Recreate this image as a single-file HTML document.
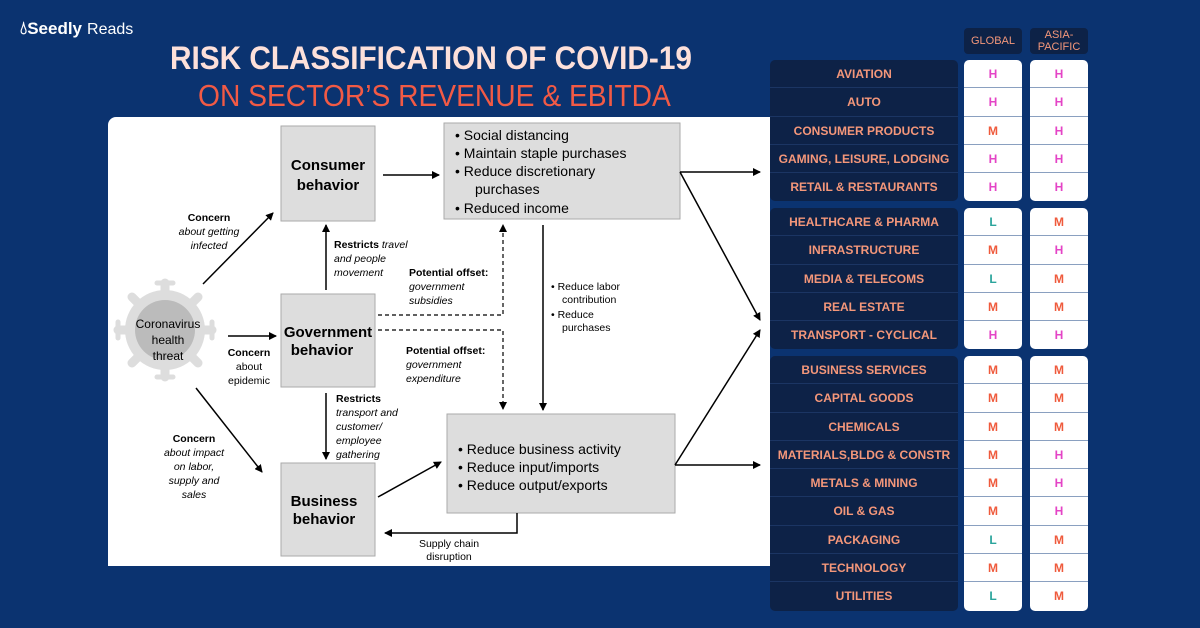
<!DOCTYPE html><html><head><meta charset="utf-8"><style>
body{margin:0;width:1200px;height:628px;background:#0b3370;font-family:"Liberation Sans",sans-serif;position:relative;overflow:hidden}
.a{position:absolute}
.t1{left:170px;top:40px;font-size:32px;font-weight:bold;color:#fde0da;transform:scaleX(0.93);transform-origin:left;white-space:nowrap}
.t2{left:198px;top:78px;font-size:31px;color:#f25a45;transform:scaleX(0.91);transform-origin:left;white-space:nowrap}
.grp{position:absolute;left:770px;width:188px;background:#0d2247;border-radius:5px}
.col{position:absolute;width:58px;background:#fff;border-radius:5px}
.row{height:28.3px;line-height:28.3px;text-align:center;font-weight:bold;font-size:12px;border-bottom:1px solid #1b3563;box-sizing:border-box}
.grp .row{color:#f4977a}
.col .row{border-bottom:1px solid #8aa0c0;font-size:12px}
.row:last-child{border-bottom:none}
.H{color:#e444c6}.M{color:#ef5a3c}.L{color:#2ba49c}
.hd{position:absolute;top:28px;width:58px;height:26px;background:#0d2247;border-radius:4px;color:#f4977a;font-size:11px;text-align:center;display:flex;align-items:center;justify-content:center;line-height:12px}
</style></head><body>
<div class="a" style="left:20px;top:18px;color:#fff;font-size:18px;font-weight:bold">&#x1F4A7;&#xFE0E;<span style="font-size:17px">Seedly</span> <span style="font-weight:normal;font-size:16px">Reads</span></div>
<div class="a t1">RISK CLASSIFICATION OF COVID-19</div>
<div class="a t2">ON SECTOR’S REVENUE &amp; EBITDA</div>
<div class="a" style="left:108px;top:117px;width:662px;height:449px;background:#fff;border-radius:8px 0 0 0"></div>
<svg class="a" style="left:0;top:0" width="770" height="628" font-family="Liberation Sans,sans-serif">
<defs><marker id="ar" markerWidth="8" markerHeight="8" refX="7" refY="4" orient="auto" markerUnits="userSpaceOnUse"><path d="M0,0L8,4L0,8z" fill="#000"/></marker></defs>
<g fill="#ddd"><circle cx="165" cy="330" r="40"/>
<g stroke="#ddd" stroke-width="9" stroke-linecap="round">
<line x1="165" y1="330" x2="165" y2="283"/><line x1="165" y1="330" x2="165" y2="377"/><line x1="165" y1="330" x2="118" y2="330"/><line x1="165" y1="330" x2="212" y2="330"/>
<line x1="165" y1="330" x2="132" y2="297"/><line x1="165" y1="330" x2="198" y2="297"/><line x1="165" y1="330" x2="132" y2="363"/><line x1="165" y1="330" x2="198" y2="363"/></g>
<g stroke="#ddd" stroke-width="5" stroke-linecap="round"><line x1="157" y1="283" x2="173" y2="283"/><line x1="157" y1="377" x2="173" y2="377"/><line x1="118" y1="322" x2="118" y2="338"/><line x1="212" y1="322" x2="212" y2="338"/></g></g>
<circle cx="165" cy="330" r="30" fill="#bbb"/>
<text font-size="12" text-anchor="middle"><tspan x="168" y="328">Coronavirus</tspan><tspan x="168" y="344">health</tspan><tspan x="168" y="360">threat</tspan></text>
<g fill="#ddd" stroke="#aaa"><rect x="281" y="126" width="94" height="95"/><rect x="281" y="294" width="94" height="93"/><rect x="281" y="463" width="94" height="93"/><rect x="444" y="123" width="236" height="96"/><rect x="447" y="414" width="228" height="99"/></g>
<g font-weight="bold" font-size="15" text-anchor="middle"><text x="328" y="170">Consumer</text><text x="328" y="190">behavior</text><text x="328" y="337">Government</text><text x="322" y="355">behavior</text><text x="324" y="506">Business</text><text x="324" y="524">behavior</text></g>
<g font-size="14"><text x="455" y="140">•  Social distancing</text><text x="455" y="158">•  Maintain staple purchases</text><text x="455" y="176">•  Reduce discretionary</text><text x="475" y="194">purchases</text><text x="455" y="213">•  Reduced income</text>
<text x="458" y="454">•  Reduce business activity</text><text x="458" y="472">•  Reduce input/imports</text><text x="458" y="490">•  Reduce output/exports</text></g>
<g stroke="#000" stroke-width="1.5" fill="none" marker-end="url(#ar)">
<line x1="203" y1="284" x2="273" y2="213"/><line x1="228" y1="336" x2="276" y2="336"/><line x1="196" y1="388" x2="262" y2="472"/>
<line x1="383" y1="175" x2="439" y2="175"/><line x1="326" y1="290" x2="326" y2="225"/><line x1="326" y1="393" x2="326" y2="459"/>
<line x1="378" y1="497" x2="441" y2="462"/><line x1="543" y1="225" x2="543" y2="410"/>
<polyline points="517,513 517,533 385,533"/>
<polyline points="680,172 700,172 760,172" /><polyline points="680,172 760,320"/>
<polyline points="675,465 760,465"/><polyline points="675,465 760,330"/>
</g>
<g stroke="#000" stroke-width="1.2" fill="none" stroke-dasharray="4,3" marker-end="url(#ar)"><polyline points="378,315 503,315 503,225"/><polyline points="378,330 503,330 503,409"/></g>
<g font-size="10.5" font-style="italic" text-anchor="middle">
<text x="209" y="221" font-style="normal" font-weight="bold">Concern</text><text x="209" y="235">about getting</text><text x="209" y="249">infected</text>
<text x="249" y="356" font-style="normal" font-weight="bold">Concern</text><text x="249" y="370" font-style="normal">about</text><text x="249" y="384" font-style="normal">epidemic</text>
<text x="194" y="442" font-style="normal" font-weight="bold">Concern</text><text x="194" y="456">about impact</text><text x="194" y="470">on labor,</text><text x="194" y="484">supply and</text><text x="194" y="498">sales</text>
</g>
<g font-size="10.5" font-style="italic">
<text x="334" y="248"><tspan font-weight="bold" font-style="normal">Restricts</tspan> travel</text><text x="334" y="262">and people</text><text x="334" y="276">movement</text>
<text x="409" y="276" font-weight="bold" font-style="normal">Potential offset:</text><text x="409" y="290">government</text><text x="409" y="304">subsidies</text>
<text x="406" y="354" font-weight="bold" font-style="normal">Potential offset:</text><text x="406" y="368">government</text><text x="406" y="382">expenditure</text>
<text x="336" y="402" font-weight="bold" font-style="normal">Restricts</text><text x="336" y="416">transport and</text><text x="336" y="430">customer/</text><text x="336" y="444">employee</text><text x="336" y="458">gathering</text>
</g>
<g font-size="10.5"><text x="551" y="290">•  Reduce labor</text><text x="562" y="303">contribution</text><text x="551" y="318">•  Reduce</text><text x="562" y="331">purchases</text>
<text x="449" y="547" text-anchor="middle">Supply chain</text><text x="449" y="560" text-anchor="middle">disruption</text></g>
</svg>
<div class="hd" style="left:964px">GLOBAL</div><div class="hd" style="left:1030px">ASIA-<br>PACIFIC</div>
<div class="grp" style="top:60px"><div class="row">AVIATION</div><div class="row">AUTO</div><div class="row">CONSUMER PRODUCTS</div><div class="row">GAMING, LEISURE, LODGING</div><div class="row">RETAIL &amp; RESTAURANTS</div></div>
<div class="col" style="left:964px;top:60px"><div class="row H">H</div><div class="row H">H</div><div class="row M">M</div><div class="row H">H</div><div class="row H">H</div></div>
<div class="col" style="left:1030px;top:60px"><div class="row H">H</div><div class="row H">H</div><div class="row H">H</div><div class="row H">H</div><div class="row H">H</div></div>
<div class="grp" style="top:208px"><div class="row">HEALTHCARE &amp; PHARMA</div><div class="row">INFRASTRUCTURE</div><div class="row">MEDIA &amp; TELECOMS</div><div class="row">REAL ESTATE</div><div class="row">TRANSPORT - CYCLICAL</div></div>
<div class="col" style="left:964px;top:208px"><div class="row L">L</div><div class="row M">M</div><div class="row L">L</div><div class="row M">M</div><div class="row H">H</div></div>
<div class="col" style="left:1030px;top:208px"><div class="row M">M</div><div class="row H">H</div><div class="row M">M</div><div class="row M">M</div><div class="row H">H</div></div>
<div class="grp" style="top:356px"><div class="row">BUSINESS SERVICES</div><div class="row">CAPITAL GOODS</div><div class="row">CHEMICALS</div><div class="row">MATERIALS,BLDG &amp; CONSTR</div><div class="row">METALS &amp; MINING</div><div class="row">OIL &amp; GAS</div><div class="row">PACKAGING</div><div class="row">TECHNOLOGY</div><div class="row">UTILITIES</div></div>
<div class="col" style="left:964px;top:356px"><div class="row M">M</div><div class="row M">M</div><div class="row M">M</div><div class="row M">M</div><div class="row M">M</div><div class="row M">M</div><div class="row L">L</div><div class="row M">M</div><div class="row L">L</div></div>
<div class="col" style="left:1030px;top:356px"><div class="row M">M</div><div class="row M">M</div><div class="row M">M</div><div class="row H">H</div><div class="row H">H</div><div class="row H">H</div><div class="row M">M</div><div class="row M">M</div><div class="row M">M</div></div>
</body></html>
